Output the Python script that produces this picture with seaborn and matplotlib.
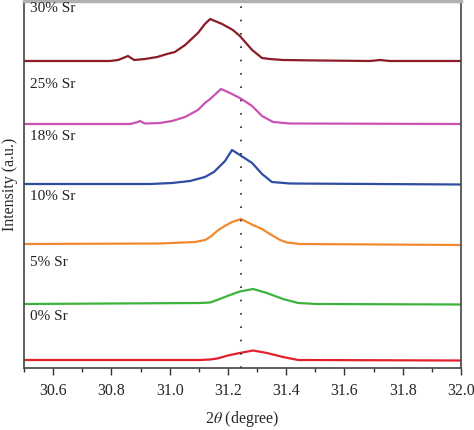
import seaborn as sns
import matplotlib.pyplot as plt
import pandas as pd
from matplotlib.ticker import MultipleLocator

# samples, top to bottom
labels = ['30% Sr', '25% Sr', '18% Sr', '10% Sr', '5% Sr', '0% Sr']
colors = ['#8c1a27', '#c853b2', '#2f4ca3', '#f08a2c', '#3cb43c', '#e3202c']

# 2theta positions and stacked intensity (a.u.)
x30 = [30.5, 30.795, 30.823, 30.857, 30.878, 30.915, 30.957, 30.991, 31.018, 31.053, 31.097, 31.121,
       31.139, 31.180, 31.217, 31.241, 31.259, 31.283, 31.317, 31.344, 31.389, 31.516, 31.688, 31.722,
       31.756, 32.0]
y30 = [307, 307, 308, 312, 308, 309, 311, 314, 316, 323, 335, 344,
       349, 344, 338, 332, 326, 318, 310, 309, 308, 307.5, 307, 308,
       307, 307]

x25 = [30.5, 30.864, 30.891, 30.898, 30.915, 30.967, 31.008, 31.053, 31.097, 31.121, 31.139, 31.176,
       31.207, 31.241, 31.283, 31.317, 31.355, 31.413, 32.0]
y25 = [244, 244, 246, 247, 244.5, 245, 247, 251, 258, 265, 269, 279,
       275, 270, 262, 252, 246, 244.5, 244]

x18 = [30.5, 30.933, 31.008, 31.070, 31.121, 31.152, 31.190, 31.214, 31.241, 31.283, 31.317, 31.351,
       31.413, 32.0]
y18 = [184, 184, 185, 187, 191, 196, 207, 218, 213, 205, 194, 186,
       184.5, 183.5]

x10 = [30.5, 30.967, 31.087, 31.121, 31.139, 31.163, 31.183, 31.214, 31.245, 31.286, 31.317, 31.344,
       31.379, 31.403, 31.447, 32.0]
y10 = [124, 124.5, 126, 128, 131, 137, 141, 146, 149, 143, 139, 134,
       128, 125.5, 124, 123]

x5 = [30.5, 31.104, 31.139, 31.163, 31.207, 31.241, 31.286, 31.334, 31.389, 31.441, 31.506, 32.0]
y5 = [64, 65, 65.5, 68, 73, 76.5, 79, 75, 69, 65, 64, 63.5]

x0 = [30.5, 31.104, 31.139, 31.163, 31.207, 31.241, 31.286, 31.334, 31.389, 31.441, 32.0]
y0 = [8, 8, 8.5, 9.5, 13, 15, 17.5, 15, 11, 8, 7.5]

label_y = [360, 284, 232, 172, 105, 51]
ref_line = 31.245

curves = [(x30, y30), (x25, y25), (x18, y18), (x10, y10), (x5, y5), (x0, y0)]
frames = []
for lab, (xs, ys) in zip(labels, curves):
    frames.append(pd.DataFrame({'theta': xs, 'intensity': ys, 'sample': lab}))
df = pd.concat(frames, ignore_index=True)

sns.set_style('ticks')
plt.rcParams['font.family'] = ['Liberation Serif', 'DejaVu Serif']
plt.rcParams['mathtext.fontset'] = 'stix'

fig = plt.figure(figsize=(4.74, 4.30), dpi=100)
ax = fig.add_axes([24 / 474, 62 / 430, 437 / 474, 367 / 430])

sns.lineplot(data=df, x='theta', y='intensity', hue='sample', palette=dict(zip(labels, colors)),
             linewidth=1.6, legend=False, ax=ax)

ax.axvline(ref_line, color='#222222', linewidth=1.2, linestyle=(0, (1, 7)))

for lab, ly in zip(labels, label_y):
    ax.text(30.52, ly, lab, fontsize=11, va='center', ha='left', color='#222222')

ax.set_xlim(30.5, 32.0)
ax.set_ylim(0, 367)
ax.xaxis.set_minor_locator(MultipleLocator(0.1))
ax.set_xticks([30.6, 30.8, 31.0, 31.2, 31.4, 31.6, 31.8, 32.0])
ax.set_xticklabels(['30.6', '30.8', '31.0', '31.2', '31.4', '31.6', '31.8', '32.0'])
ax.set_yticks([])
ax.tick_params(axis='x', which='major', length=5, width=1, color='#333333', labelsize=11.5, pad=6)
ax.tick_params(axis='x', which='minor', length=3, width=1, color='#333333')

for side in ['left', 'right', 'bottom']:
    ax.spines[side].set_color('#444444')
    ax.spines[side].set_linewidth(1.2)
ax.spines['top'].set_color('#b0b0b0')
ax.spines['top'].set_linewidth(2.5)

ax.set_xlabel(r'2$\theta$ (degree)', fontsize=11.5, labelpad=7)
ax.set_ylabel('Intensity (a.u.)', fontsize=11.5, labelpad=4)

fig.savefig('out.png', dpi=100)
